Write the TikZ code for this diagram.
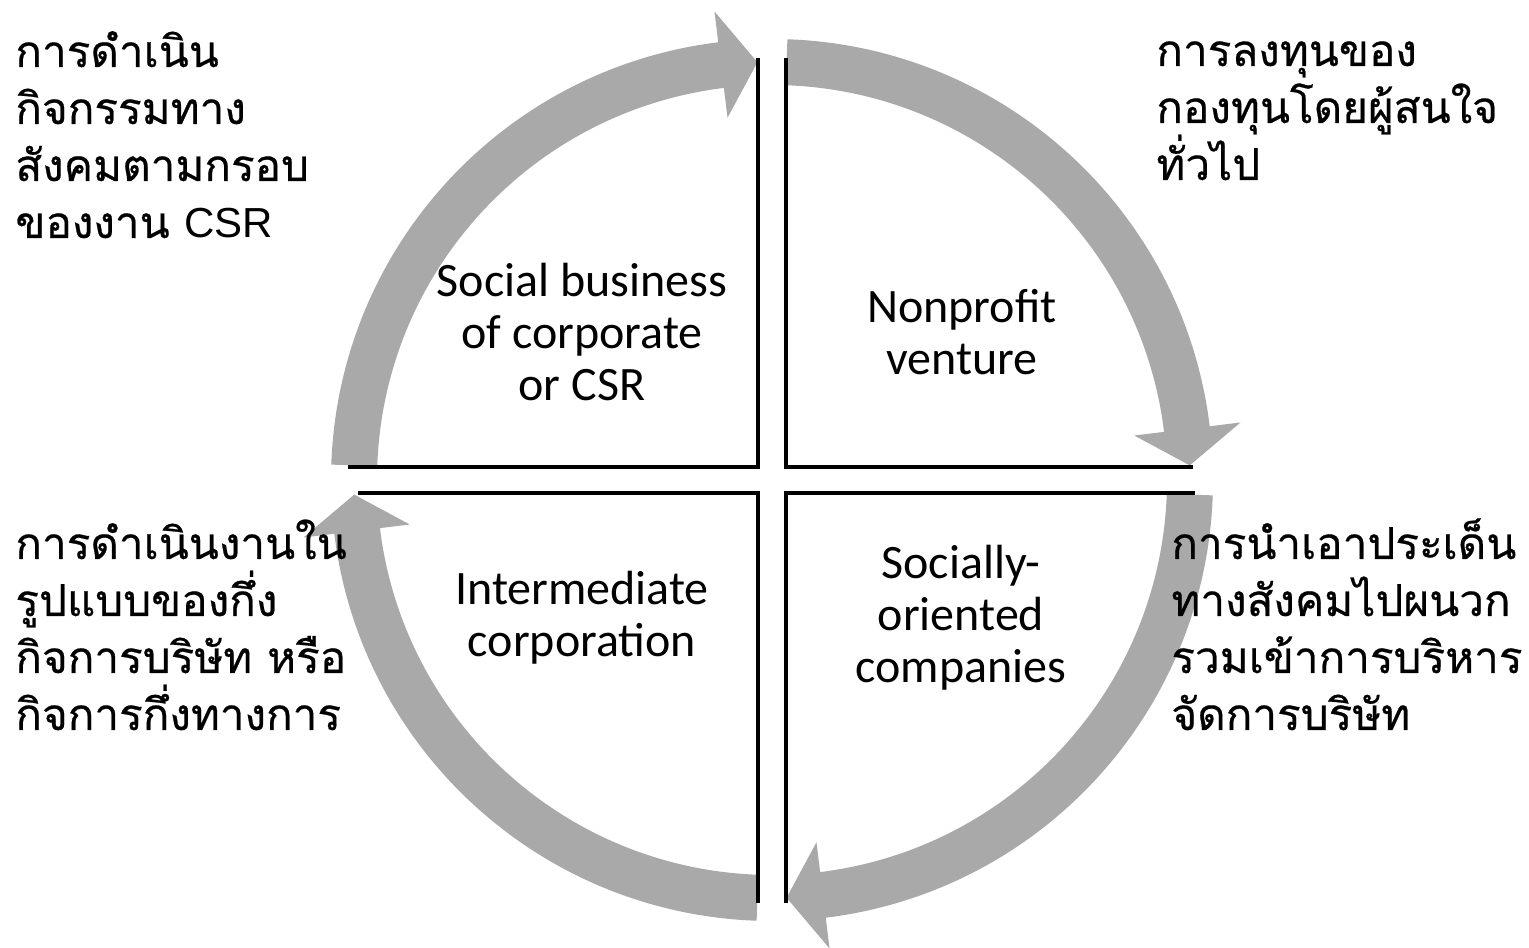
\documentclass[tikz,border=0pt]{standalone}
\usepackage{fontspec}
\setmainfont{Carlito}
\newfontfamily\thaifont[Script=Thai,FakeBold=0.5]{Loma}
\newfontfamily\arialfont{Liberation Sans}
\definecolor{arrowgray}{HTML}{A9A9A9}
\begin{document}
\begin{tikzpicture}[x=0.5pt,y=0.5pt,
  quadline/.style={line width=2pt, black, line join=miter},
  cyclearrow/.style={fill=arrowgray, draw=none},
  label/.style={font={\fontsize{24}{26}\selectfont}, align=center, anchor=base, inner sep=0pt},
  thailabel/.style={font={\thaifont\fontsize{22}{28.5}\selectfont}, align=left, anchor=base west, inner sep=0pt}]
\useasboundingbox (0,0) rectangle (1529,947);
\coordinate (c) at (772,467);
% circular arrows
\begin{scope}[shift={(c)}]
\foreach \s in {178,88,-2,-92}{
  \pgfmathsetmacro{\b}{\s-81}
  \pgfmathsetmacro{\t}{\s-86}
  \fill[cyclearrow] (\s:441) arc[start angle=\s, end angle=\b, radius=441]
     -- (\b:472) -- (\t:418) -- (\b:365) -- (\b:395)
     arc[start angle=\b, end angle=\s, radius=395] -- cycle;
}
\end{scope}
% quadrant lines
\coordinate (tl1) at (348,480); \coordinate (tl2) at (758,480); \coordinate (tl3) at (758,889);
\coordinate (tr1) at (786,889); \coordinate (tr2) at (786,480); \coordinate (tr3) at (1193,480);
\coordinate (bl1) at (358,454); \coordinate (bl2) at (758,454); \coordinate (bl3) at (758,44);
\coordinate (br1) at (786,44); \coordinate (br2) at (786,454); \coordinate (br3) at (1195,454);
\draw[quadline] (tl1) -- (tl2) -- (tl3);
\draw[quadline] (tr1) -- (tr2) -- (tr3);
\draw[quadline] (bl1) -- (bl2) -- (bl3);
\draw[quadline] (br1) -- (br2) -- (br3);
% quadrant labels (anchor = baseline of last line)
\node[label] (qtl) at (582,546) {Social business\\of corporate\\or CSR};
\node[label] (qtr) at (962,572) {Nonprofit\\venture};
\node[label] (qbl) at (582,290) {Intermediate\\corporation};
\node[label] (qbr) at (961,264) {Socially-\\oriented\\companies};
% Thai descriptions
\node[thailabel] (dtl) at (15,709) {การดำเนิน\\กิจกรรมทาง\\สังคมตามกรอบ\\ของงาน {\arialfont\fontsize{21}{28.5}\selectfont CSR}};
\node[thailabel] (dtr) at (1156,767) {การลงทุนของ\\กองทุนโดยผู้สนใจ\\ทั่วไป};
\node[thailabel] (dbl) at (15,217) {การดำเนินงานใน\\รูปแบบของกึ่ง\\กิจการบริษัท หรือ\\กิจการกึ่งทางการ};
\node[thailabel] (dbr) at (1171,217) {การนำเอาประเด็น\\ทางสังคมไปผนวก\\รวมเข้าการบริหาร\\จัดการบริษัท};
\end{tikzpicture}
\end{document}
